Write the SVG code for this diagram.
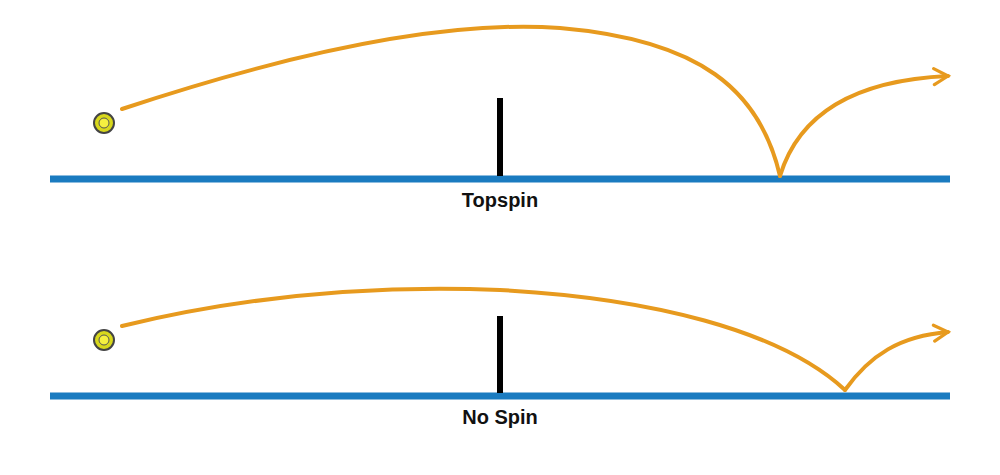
<svg xmlns="http://www.w3.org/2000/svg" width="1000" height="475" viewBox="0 0 1000 475">
<style>
.ground{stroke:#1a7bc0;stroke-width:7}
.net{stroke:#000;stroke-width:6}
.path{fill:none;stroke:#e79a1e;stroke-width:4;stroke-linecap:round}
.lbl{font-family:"Liberation Sans",Arial,sans-serif;font-weight:bold;font-size:20px;fill:#111;text-anchor:middle}
.ball{fill:#d8d81c;stroke:#444;stroke-width:2}
</style>
<defs>
<marker id="arr" viewBox="0 0 10 10" refX="8" refY="5" markerWidth="5" markerHeight="5" orient="auto" markerUnits="strokeWidth">
<path d="M1,1 L8,5 L1,9" fill="none" stroke="#e79a1e" stroke-width="1.6" stroke-linecap="round"/>
</marker>
</defs>
<rect width="1000" height="475" fill="#fff"/>
<g id="topspin">
<line class="ground" x1="50" y1="179" x2="950" y2="179"/>
<line class="net" x1="500" y1="98" x2="500" y2="176"/>
<circle class="ball" cx="104" cy="123" r="10"/>
<circle cx="104" cy="123" r="5" fill="#f5f040" stroke="#555" stroke-width="1"/>
<text class="lbl" x="500" y="207">Topspin</text>
</g>
<g id="nospin">
<line class="ground" x1="50" y1="396" x2="950" y2="396"/>
<line class="net" x1="500" y1="316" x2="500" y2="393"/>
<circle class="ball" cx="104" cy="340" r="10"/>
<circle cx="104" cy="340" r="5" fill="#f5f040" stroke="#555" stroke-width="1"/>
<text class="lbl" x="500" y="424">No Spin</text>
</g>
<g id="connectors">
<path class="path" d="M122,109 C300,50 450,20 560,28 C700,40 760,90 780,176"/>
<path class="path" marker-end="url(#arr)" d="M780,176 C800,110 860,80 948,76"/>
<path class="path" d="M122,326 C250,295 380,285 500,290 C650,298 780,330 845,390"/>
<path class="path" marker-end="url(#arr)" d="M845,390 C870,355 900,336 948,332"/>
</g>
</svg>
